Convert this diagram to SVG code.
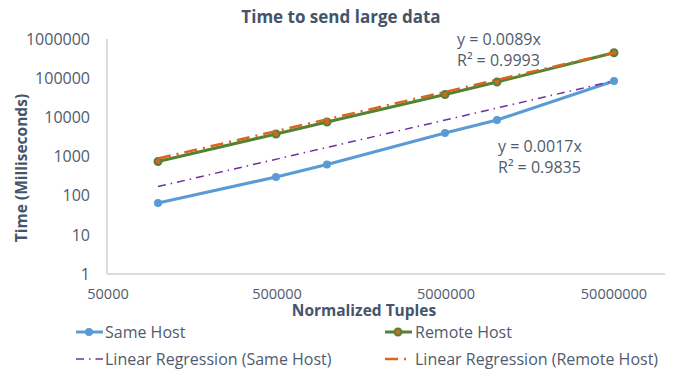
<svg xmlns="http://www.w3.org/2000/svg" width="682" height="369" viewBox="0 0 682 369">
<style>
text{font-family:"Open Sans","Liberation Sans",sans-serif;fill:#4F5B6E}
.title{font-size:17px;font-weight:bold;fill:#44546A}
.axt{font-size:15.5px;font-weight:bold;fill:#44546A}
.yt{font-size:16px;text-anchor:end}
.xt{font-size:14.5px;text-anchor:middle}
.lg{font-size:16px}
.tl{font-size:16px}
.axis{stroke:#CDD2DA;stroke-width:1.5;fill:none}
.same{stroke:#5B9BD5;stroke-width:3;fill:none;stroke-linejoin:round}
.remote{stroke:#548235;stroke-width:3;fill:none;stroke-linejoin:round}
.mS{fill:#5B9BD5}
.mR{fill:#C86A28;stroke:#548235;stroke-width:2}
.regS{stroke:#7030A0;stroke-width:1.5;fill:none;stroke-dasharray:8 5 1.5 5}
.regR{stroke:#D9651E;stroke-width:2.5;fill:none;stroke-dasharray:13 6 2 6}
</style>
<rect width="682" height="369" fill="#FFFFFF"/>
<text class="title" x="341" y="22.5" text-anchor="middle">Time to send large data</text>
<g id="axes">
<line class="axis" x1="107" y1="39" x2="107" y2="274"/>
<line class="axis" x1="107" y1="274" x2="665" y2="274"/>
<text class="yt" x="90" y="279.7">1</text>
<text class="yt" x="90" y="240.5">10</text>
<text class="yt" x="90" y="201.4">100</text>
<text class="yt" x="90" y="162.2">1000</text>
<text class="yt" x="90" y="123">10000</text>
<text class="yt" x="90" y="83.9">100000</text>
<text class="yt" x="90" y="44.7">1000000</text>
<text class="xt" x="108" y="299">50000</text>
<text class="xt" x="277" y="299">500000</text>
<text class="xt" x="446" y="299">5000000</text>
<text class="xt" x="614" y="299">50000000</text>
<text class="axt" x="364" y="316" text-anchor="middle">Normalized Tuples</text>
<text class="axt" transform="translate(26.5,168) rotate(-90)" text-anchor="middle">Time (Milliseconds)</text>
</g>
<g id="connectors">
<g id="series-same-host">
<polyline class="same" points="158,203 276,177 327,164.5 445,133 497,120 614,81"/>
<circle class="mS" cx="158" cy="203" r="4"/>
<circle class="mS" cx="276" cy="177" r="4"/>
<circle class="mS" cx="327" cy="164.5" r="4"/>
<circle class="mS" cx="445" cy="133" r="4"/>
<circle class="mS" cx="497" cy="120" r="4"/>
<circle class="mS" cx="614" cy="81" r="4"/>
</g>
<g id="series-remote-host">
<polyline class="remote" points="158,161.5 276,134 327,122 445,94.5 497,82 614,52.7"/>
<circle class="mR" cx="158" cy="161.5" r="3.5"/>
<circle class="mR" cx="276" cy="134" r="3.5"/>
<circle class="mR" cx="327" cy="122" r="3.5"/>
<circle class="mR" cx="445" cy="94.5" r="3.5"/>
<circle class="mR" cx="497" cy="82" r="3.5"/>
<circle class="mR" cx="614" cy="52.7" r="3.5"/>
</g>
<line id="reg-same" class="regS" x1="158" y1="186.6" x2="614" y2="80.9"/>
<line id="reg-remote" class="regR" x1="158" y1="158.5" x2="614" y2="52.7"/>
</g>
<g id="trend-labels">
<text class="tl" x="457" y="45">y = 0.0089x</text>
<text class="tl" x="457" y="66">R² = 0.9993</text>
<text class="tl" x="498" y="152">y = 0.0017x</text>
<text class="tl" x="498" y="173">R² = 0.9835</text>
</g>
<g id="legend">
<g id="legend-same">
<line class="same" x1="76" y1="332" x2="103" y2="332"/>
<circle class="mS" cx="89" cy="332" r="4"/>
<text class="lg" x="105" y="338">Same Host</text>
</g>
<g id="legend-remote">
<line class="remote" x1="385" y1="332" x2="412" y2="332"/>
<circle class="mR" cx="398" cy="332" r="3.5"/>
<text class="lg" x="415" y="338">Remote Host</text>
</g>
<g id="legend-reg-same">
<line class="regS" x1="76" y1="359" x2="103" y2="359"/>
<text class="lg" x="105" y="365">Linear Regression (Same Host)</text>
</g>
<g id="legend-reg-remote">
<line class="regR" x1="385" y1="359" x2="412" y2="359"/>
<text class="lg" x="415" y="365">Linear Regression (Remote Host)</text>
</g>
</g>
</svg>
